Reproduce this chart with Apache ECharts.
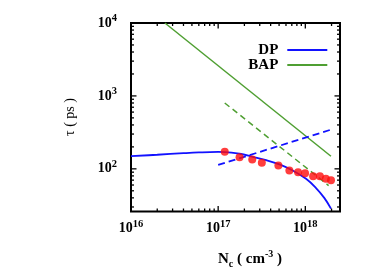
<!DOCTYPE html>
<html><head><meta charset="utf-8">
<script src="https://cdn.jsdelivr.net/npm/echarts@6/dist/echarts.min.js"></script>
<style>html,body{margin:0;padding:0;background:#fff}#c{width:389px;height:273px}</style>
</head><body><div id="c"></div>
<script>
// ---- data ----
const dpCurve = [[1e16,149],[2e16,156],[4e16,164],[6e16,168],[1e17,170.5],[1.2e17,170],[1.76e17,161],[2.5e17,146],[3.56e17,131.5],[5.05e17,115],[7.16e17,95],[1.02e18,73],[1.32e18,55],[1.65e18,40],[1.97e18,28.5]];
const dpFit = [[1e17,113],[1.97e18,345]];
const bapCurve = [[2.45e16,10000],[1.97e18,149]];
const bapFit = [[1.19e17,800],[1.85e18,59]];
const measuredN = [1.19e17,1.76e17,2.46e17,3.17e17,4.91e17,6.56e17,8.26e17,9.93e17,1.23e18,1.47e18,1.72e18,1.97e18];
const measuredTau = [171,144.5,134,121,111,95,90,87,79,79,73,69.5];
const xLabelExps = [16,17,18];
const yLabelExps = [2,3,4];
const xMin = 1e16, xMax = 2.5e18, yMin = 26, yMax = 1e4;

// ---- tick positions (1..9 per decade) ----
const xTicks = [], yTicks = [];
for (let e = 16; e <= 18; e++) for (let m = 1; m <= 9; m++) { const v = m * Math.pow(10, e); if (v >= xMin && v <= xMax) xTicks.push([v, 100, m === 1 ? 1 : 0]); }
for (let e = 1; e <= 4; e++) for (let m = 1; m <= 9; m++) { const v = m * Math.pow(10, e); if (v >= yMin && v <= yMax) yTicks.push([1e17, v, m === 1 ? 1 : 0]); }

const FONT = "'Liberation Serif','DejaVu Serif',serif";
const BLUE = '#1212ff', GREEN = '#4f9f32', RED = '#ff0d0d';

function expFmt(exps) {
  return function (v) {
    const l = Math.log10(v), e = Math.round(l);
    if (Math.abs(l - e) > 1e-6 || exps.indexOf(e) < 0) return '';
    return '{b|10}{s|' + e + '}';
  };
}
const labelRich = {
  b: { fontFamily: FONT, fontWeight: 'bold', fontSize: 14, lineHeight: 20, color: '#000' },
  s: { fontFamily: FONT, fontWeight: 'bold', fontSize: 10.5, lineHeight: 9, verticalAlign: 'top', color: '#000' }
};
const tickStyle = { stroke: '#000', lineWidth: 1.3 };

const chart = echarts.init(document.getElementById('c'), null, { renderer: 'canvas' });
chart.setOption({
  animation: false,
  backgroundColor: '#fff',
  grid: { left: 131, right: 49, top: 23, bottom: 61.5, show: true, borderColor: '#000', borderWidth: 2, backgroundColor: 'transparent' },
  xAxis: {
    type: 'log', logBase: 10, min: xMin, max: xMax,
    axisLine: { show: false }, axisTick: { show: false }, splitLine: { show: false }, minorTick: { show: false },
    axisLabel: { margin: 7, formatter: expFmt(xLabelExps), rich: labelRich, showMaxLabel: false }
  },
  yAxis: {
    type: 'log', logBase: 10, min: yMin, max: yMax,
    axisLine: { show: false }, axisTick: { show: false }, splitLine: { show: false }, minorTick: { show: false },
    axisLabel: { margin: 14, formatter: expFmt(yLabelExps), rich: labelRich, showMinLabel: false }
  },
  legend: {
    data: [{ name: 'DP', icon: 'rect' }, { name: 'BAP', icon: 'rect' }],
    orient: 'vertical', align: 'right', right: 61.7, top: 42.5, padding: 0,
    itemWidth: 40, itemHeight: 2, itemGap: 0,
    textStyle: { fontFamily: FONT, fontWeight: 'bold', fontSize: 15, lineHeight: 15, color: '#000', padding: [0, 4, 0, 0] }
  },
  graphic: [
    { type: 'text', x: 250, y: 259.5, style: {
        text: '{n|N}{sub|c}{n| ( cm}{sup|-3}{n| )}', align: 'center', verticalAlign: 'middle',
        rich: {
          n: { fontFamily: FONT, fontWeight: 'bold', fontSize: 15, lineHeight: 20, fill: '#000' },
          sub: { fontFamily: FONT, fontWeight: 'bold', fontSize: 10, lineHeight: 8, verticalAlign: 'bottom', fill: '#000' },
          sup: { fontFamily: FONT, fontWeight: 'bold', fontSize: 10, lineHeight: 10, verticalAlign: 'top', fill: '#000' }
        } } },
    { type: 'text', x: 70, y: 117, rotation: Math.PI / 2, style: {
        text: 'τ ( ps )', align: 'center', verticalAlign: 'middle',
        font: '14px ' + FONT, fill: '#000' } }
  ],
  series: [
    { name: 'xticks', type: 'custom', silent: true, data: xTicks, encode: { x: 0, y: 1 }, z: 10,
      renderItem: function (params, api) {
        const cs = params.coordSys; const px = api.coord([api.value(0), api.value(1)])[0];
        const len = api.value(2) ? 5.5 : 3; const yb = cs.y + cs.height;
        return { type: 'group', children: [
          { type: 'line', shape: { x1: px, y1: yb, x2: px, y2: yb - len }, style: tickStyle },
          { type: 'line', shape: { x1: px, y1: cs.y, x2: px, y2: cs.y + len }, style: tickStyle } ] };
      } },
    { name: 'yticks', type: 'custom', silent: true, data: yTicks, encode: { x: 0, y: 1 }, z: 10,
      renderItem: function (params, api) {
        const cs = params.coordSys; const py = api.coord([api.value(0), api.value(1)])[1];
        const len = api.value(2) ? 5.5 : 3; const xr = cs.x + cs.width;
        return { type: 'group', children: [
          { type: 'line', shape: { x1: cs.x, y1: py, x2: cs.x + len, y2: py }, style: tickStyle },
          { type: 'line', shape: { x1: xr, y1: py, x2: xr - len, y2: py }, style: tickStyle } ] };
      } },
    { name: 'DP', type: 'line', data: dpCurve, smooth: 0.4, showSymbol: false, color: BLUE, lineStyle: { color: BLUE, width: 1.8 } },
    { name: 'BAP', type: 'line', data: bapCurve, showSymbol: false, color: GREEN, lineStyle: { color: GREEN, width: 1.5 } },
    { name: 'DP fit', type: 'line', data: dpFit, showSymbol: false, color: BLUE, lineStyle: { color: BLUE, width: 1.8, type: [7, 4] } },
    { name: 'BAP fit', type: 'line', data: bapFit, showSymbol: false, color: GREEN, lineStyle: { color: GREEN, width: 1.5, type: [6, 4] } },
    { name: 'Measured', type: 'scatter', data: measuredN.map((n, i) => [n, measuredTau[i]]), symbol: 'circle', symbolSize: 8, itemStyle: { color: RED }, z: 5 }
  ]
});
</script></body></html>
